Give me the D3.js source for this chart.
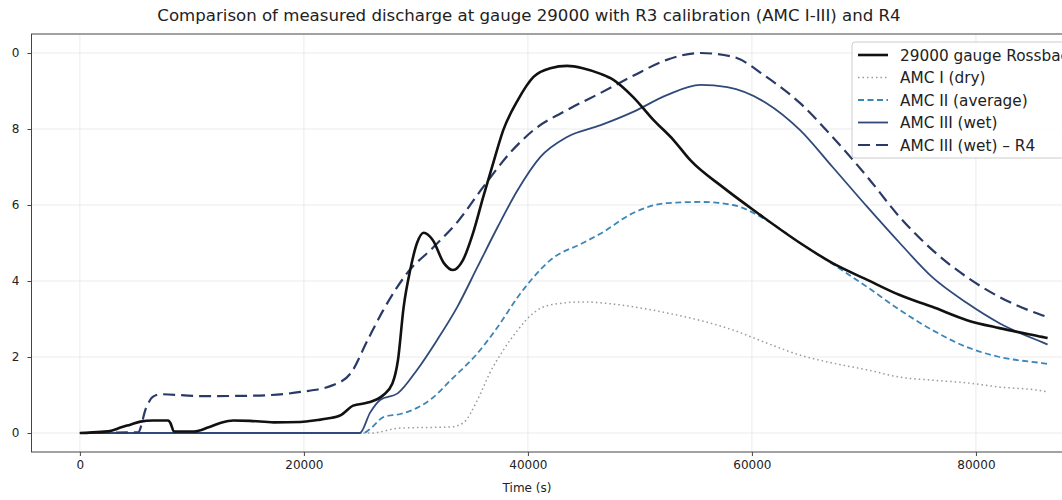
<!DOCTYPE html>
<html>
<head>
<meta charset="utf-8">
<script src="https://cdn.jsdelivr.net/npm/d3@7"></script>
<style>
  body { margin: 0; background: #fff; }
  svg { display: block; font-family: "DejaVu Sans", sans-serif; }
</style>
</head>
<body>
<svg id="chart" width="1062" height="500"></svg>
<script>
// measured gauge 29000 (time in s, discharge)
const gaugeT = [0, 1900, 2800, 3700, 4500, 5400, 6500, 7900, 8100, 8400, 10200, 11500, 12600, 13700, 15200, 17300, 19700, 21200, 22100, 23300, 24400, 25700, 27100, 27900, 28400, 28900, 29500, 30100, 30700, 31500, 32500, 33300, 34200, 35100, 36000, 36900, 37800, 39100, 40500, 42000, 43500, 44900, 46500, 47600, 49400, 51200, 53000, 54500, 57400, 60500, 64300, 67200, 70300, 73200, 76100, 79200, 82100, 85900, 86400];
const gaugeQ = [0, 0.03, 0.06, 0.15, 0.22, 0.30, 0.33, 0.33, 0.25, 0.04, 0.04, 0.15, 0.27, 0.33, 0.32, 0.28, 0.29, 0.34, 0.38, 0.47, 0.72, 0.80, 1.0, 1.3, 1.92, 3.3, 4.3, 5.0, 5.27, 5.08, 4.47, 4.29, 4.55, 5.26, 6.2, 7.1, 7.97, 8.76, 9.37, 9.6, 9.66, 9.6, 9.45, 9.3, 8.84, 8.24, 7.71, 7.18, 6.47, 5.79, 5.0, 4.47, 4.03, 3.63, 3.32, 2.97, 2.76, 2.53, 2.5];

// AMC I (dry)
const amc1T = [0, 26000, 28600, 33100, 34200, 35500, 36600, 37800, 39100, 40500, 42000, 44900, 48000, 52400, 58300, 61300, 64300, 67200, 70300, 73200, 76100, 79200, 82100, 85400, 86400];
const amc1Q = [0, 0, 0.13, 0.16, 0.26, 0.87, 1.58, 2.18, 2.71, 3.16, 3.37, 3.45, 3.38, 3.16, 2.71, 2.37, 2.05, 1.84, 1.66, 1.47, 1.39, 1.32, 1.21, 1.13, 1.08];

// AMC II (average)
const amc2T = [0, 25300, 26000, 27100, 28600, 30100, 31600, 33100, 35500, 37300, 39100, 40500, 42000, 44900, 46500, 49400, 52400, 55400, 58300, 61300, 64300, 67200, 70300, 73200, 76100, 79200, 82100, 85900, 86400];
const amc2Q = [0, 0, 0.13, 0.42, 0.5, 0.66, 0.95, 1.39, 2.1, 2.79, 3.58, 4.1, 4.55, 5.0, 5.25, 5.79, 6.05, 6.08, 6.0, 5.6, 5.0, 4.45, 3.84, 3.24, 2.71, 2.26, 2.0, 1.84, 1.82];

// AMC III (wet)
const amc3T = [0, 25000, 25900, 26800, 28400, 30100, 31900, 33700, 35500, 37300, 39100, 41100, 43500, 46500, 49400, 52400, 55400, 57800, 61300, 64300, 67200, 70300, 73200, 76100, 79200, 82100, 85900, 86400];
const amc3Q = [0, 0, 0.53, 0.87, 1.05, 1.66, 2.45, 3.32, 4.37, 5.42, 6.4, 7.26, 7.79, 8.1, 8.45, 8.89, 9.16, 9.1, 8.68, 7.97, 7.0, 5.95, 5.0, 4.1, 3.42, 2.89, 2.39, 2.33];

// AMC III (wet) - R4
const r4T = [0, 5200, 5900, 6500, 7200, 10800, 15200, 19700, 22600, 24200, 25700, 27100, 29200, 31600, 33700, 36000, 38400, 40500, 43500, 46500, 49400, 52400, 55400, 58300, 61300, 64300, 67200, 70300, 73200, 76100, 79200, 82100, 85900, 86400];
const r4Q = [0, 0.02, 0.65, 0.95, 1.02, 0.97, 0.98, 1.08, 1.26, 1.58, 2.45, 3.24, 4.2, 4.9, 5.55, 6.47, 7.37, 7.97, 8.5, 8.95, 9.4, 9.82, 10.0, 9.9, 9.37, 8.68, 7.79, 6.74, 5.68, 4.82, 4.1, 3.58, 3.1, 3.05];

const xTicks = [0, 20000, 40000, 60000, 80000];
const yTicks = [0, 2, 4, 6, 8, 10];

const seriesNames = ["29000 gauge Rossbach", "AMC I (dry)", "AMC II (average)", "AMC III (wet)", "AMC III (wet) \u2013 R4"];

// build series list from the arrays above
const series = [
  { name: seriesNames[0], t: gaugeT, q: gaugeQ, color: "#111111", width: 2.6, dash: null },
  { name: seriesNames[1], t: amc1T, q: amc1Q, color: "#9a9a9a", width: 1.5, dash: "1.5,3" },
  { name: seriesNames[2], t: amc2T, q: amc2Q, color: "#3d86b8", width: 1.8, dash: "6,3.5" },
  { name: seriesNames[3], t: amc3T, q: amc3Q, color: "#2f4a7a", width: 1.8, dash: null },
  { name: seriesNames[4], t: r4T, q: r4Q, color: "#2a3a66", width: 2.2, dash: "12,6" }
];
// draw order: models first, gauge on top
const drawOrder = [1, 2, 3, 4, 0];

const svg = d3.select("#chart");
const plotL = 31.5, plotR = 1096, plotT = 34, plotB = 452;

const x = d3.scaleLinear().domain([-4320, 90720]).range([plotL, plotR]);
const y = d3.scaleLinear().domain([-0.5, 10.5]).range([plotB, plotT]);

// grid
const grid = svg.append("g").attr("stroke", "#e6e6e6").attr("stroke-width", 0.8);
grid.selectAll(".gx").data(xTicks).enter().append("line")
  .attr("x1", d => x(d)).attr("x2", d => x(d)).attr("y1", plotT).attr("y2", plotB);
grid.selectAll(".gy").data(yTicks).enter().append("line")
  .attr("x1", plotL).attr("x2", plotR).attr("y1", d => y(d)).attr("y2", d => y(d));

// lines
const line = d3.line()
  .x(d => x(d[0]))
  .y(d => y(d[1]))
  .curve(d3.curveMonotoneX);

drawOrder.forEach(i => {
  const s = series[i];
  const pts = s.t.map((t, k) => [t, s.q[k]]);
  svg.append("path")
    .datum(pts)
    .attr("fill", "none")
    .attr("stroke", s.color)
    .attr("stroke-width", s.width)
    .attr("stroke-dasharray", s.dash)
    .attr("stroke-linejoin", "round")
    .attr("d", line);
});

// frame
svg.append("rect")
  .attr("x", plotL).attr("y", plotT)
  .attr("width", plotR - plotL).attr("height", plotB - plotT)
  .attr("fill", "none").attr("stroke", "#444").attr("stroke-width", 1);

// axes
const xAxis = svg.append("g")
  .attr("transform", "translate(0," + plotB + ")")
  .call(d3.axisBottom(x).tickValues(xTicks).tickFormat(d3.format("d")).tickSize(4).tickPadding(4));

// the reference is cropped on the left, only the last digit of "10" shows
svg.append("defs").append("clipPath").attr("id", "yclip")
  .append("rect").attr("x", 11.5).attr("y", 0).attr("width", 40).attr("height", 500);

const yAxis = svg.append("g")
  .attr("clip-path", "url(#yclip)")
  .append("g")
  .attr("transform", "translate(" + plotL + ",0)")
  .call(d3.axisLeft(y).tickValues(yTicks).tickFormat(d3.format("d")).tickSize(4).tickPadding(8));

[xAxis, yAxis].forEach(a => {
  a.select(".domain").remove();
  a.selectAll(".tick line").attr("stroke", "#444");
  a.selectAll(".tick text")
    .attr("fill", "#222")
    .attr("font-size", "12px")
    .attr("font-family", "DejaVu Sans, sans-serif");
});

// title and label
svg.append("text")
  .attr("x", 529).attr("y", 21)
  .attr("text-anchor", "middle")
  .attr("font-size", "16.6px")
  .attr("fill", "#222")
  .text("Comparison of measured discharge at gauge 29000 with R3 calibration (AMC I-III) and R4");

svg.append("text")
  .attr("x", 527).attr("y", 492)
  .attr("text-anchor", "middle")
  .attr("font-size", "12px")
  .attr("fill", "#222")
  .text("Time (s)");

// legend
const lg = svg.append("g").attr("transform", "translate(852,42)");
lg.append("rect")
  .attr("width", 240).attr("height", 116)
  .attr("rx", 3)
  .attr("fill", "#fff").attr("fill-opacity", 0.85)
  .attr("stroke", "#cccccc");

series.forEach((s, i) => {
  const row = lg.append("g").attr("transform", "translate(0," + (13 + i * 22.5) + ")");
  row.append("line")
    .attr("x1", 6).attr("x2", 36)
    .attr("stroke", s.color)
    .attr("stroke-width", s.width)
    .attr("stroke-dasharray", s.dash);
  row.append("text")
    .attr("x", 48).attr("y", 5.5)
    .attr("font-size", "15.3px")
    .attr("fill", "#222")
    .text(s.name);
});
</script>
</body>
</html>
